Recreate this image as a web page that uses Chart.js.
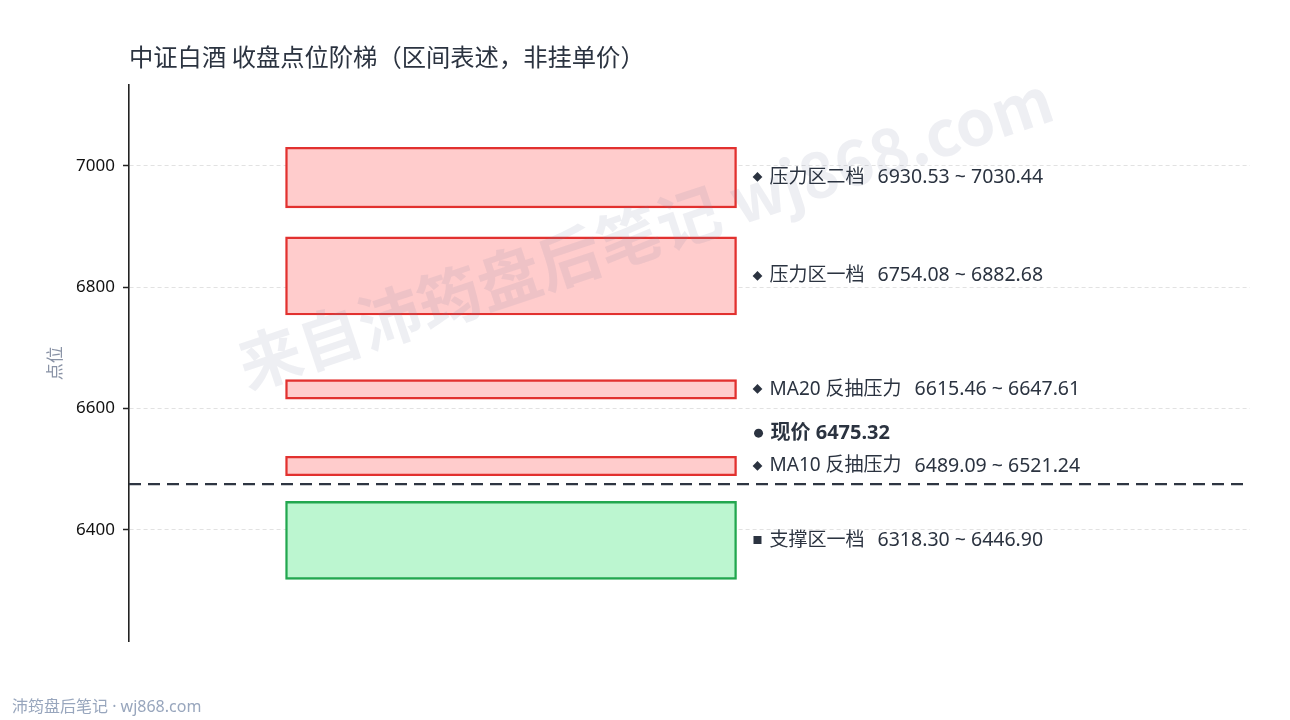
<!DOCTYPE html>
<html>
<head>
<meta charset="utf-8">
<script src="https://cdn.jsdelivr.net/npm/chart.js@4.4.1/dist/chart.umd.min.js"></script>
<style>
  html, body { margin: 0; padding: 0; background: #fff; }
  #wrap { width: 1290px; height: 720px; }
</style>
</head>
<body>
<div id="wrap"><canvas id="ladder" width="1290" height="720"></canvas></div>
<script>
// zones, top to bottom
const zoneNames = ["压力区二档", "压力区一档", "MA20 反抽压力", "MA10 反抽压力", "支撑区一档"];
const zoneLow = [6930.53, 6754.08, 6615.46, 6489.09, 6318.30];
const zoneHigh = [7030.44, 6882.68, 6647.61, 6521.24, 6446.90];
const zoneKind = ["resist", "resist", "resist", "resist", "support"];
const currentPrice = 6475.32;
const yTicks = [6400, 6600, 6800, 7000];

const FONT = "'Noto Sans', 'Noto Sans CJK SC', sans-serif";
const TEXT = "#2b3340";
const barX = 0.3408;

function fmt(v) {
  return v.toFixed(2);
}

const overlay = {
  id: "overlay",
  afterDatasetsDraw(chart) {
    const ctx = chart.ctx;
    const area = chart.chartArea;
    const y = chart.scales.y;

    // current price line
    const py = y.getPixelForValue(currentPrice);
    ctx.save();
    ctx.strokeStyle = "#2e3542";
    ctx.lineWidth = 2.2;
    ctx.setLineDash([12, 7]);
    ctx.beginPath();
    ctx.moveTo(area.left, py);
    ctx.lineTo(area.right, py);
    ctx.stroke();
    ctx.restore();

    // watermark
    ctx.save();
    ctx.translate(645, 232);
    ctx.rotate(-18.5 * Math.PI / 180);
    ctx.font = "bold 63px 'Noto Sans CJK SC', sans-serif";
    ctx.fillStyle = "rgba(120, 132, 165, 0.13)";
    ctx.textAlign = "center";
    ctx.textBaseline = "middle";
    ctx.fillText("来自沛筠盘后笔记 wj868.com", 0, 0);
    ctx.restore();
  },
  afterDraw(chart) {
    const ctx = chart.ctx;
    const y = chart.scales.y;
    const meta = chart.getDatasetMeta(0);

    ctx.save();
    ctx.textBaseline = "middle";

    // zone labels
    for (let i = 0; i < zoneNames.length; i++) {
      const bar = meta.data[i];
      const ly = (y.getPixelForValue(zoneLow[i]) + y.getPixelForValue(zoneHigh[i])) / 2;
      const lx = bar.x + bar.width / 2 + 20;
      ctx.fillStyle = TEXT;
      ctx.textAlign = "center";
      ctx.font = "10px 'Noto Sans CJK SC'";
      ctx.fillText(zoneKind[i] === "support" ? "■" : "◆", lx + 1, ly);
      ctx.textAlign = "left";
      ctx.font = "19px " + FONT;
      ctx.fillText(zoneNames[i], lx + 13, ly);
      const nameW = ctx.measureText(zoneNames[i]).width;
      ctx.font = "19.5px 'Noto Sans', sans-serif";
      ctx.fillText(fmt(zoneLow[i]) + " ~ " + fmt(zoneHigh[i]), lx + 13 + nameW + 13, ly);
    }

    // current price label
    const bar0 = meta.data[0];
    const cx = bar0.x + bar0.width / 2 + 20;
    const cy = y.getPixelForValue(currentPrice) - 51;
    ctx.fillStyle = TEXT;
    ctx.beginPath();
    ctx.arc(cx + 2, cy, 4.5, 0, Math.PI * 2);
    ctx.fill();
    ctx.textAlign = "left";
    ctx.font = "bold 20px " + FONT;
    ctx.fillText("现价 " + fmt(currentPrice), cx + 14, cy);

    // title
    ctx.fillStyle = TEXT;
    ctx.font = "24.3px 'Noto Sans CJK SC', sans-serif";
    ctx.fillText("中证白酒 收盘点位阶梯（区间表述，非挂单价）", 129, 57);

    // footer
    ctx.fillStyle = "#98a6bd";
    ctx.font = "16px " + FONT;
    ctx.fillText("沛筠盘后笔记 · wj868.com", 12, 707);
    ctx.restore();
  }
};

new Chart(document.getElementById("ladder"), {
  type: "bar",
  data: {
    datasets: [
      {
        data: zoneLow.map((lo, i) => ({ x: barX, y: [lo, zoneHigh[i]] })),
        backgroundColor: zoneKind.map((k) => (k === "support" ? "#bcf6d0" : "#ffcccc")),
        borderColor: zoneKind.map((k) => (k === "support" ? "#22a74f" : "#e2312f")),
        borderWidth: 2.4,
        borderSkipped: false,
        barThickness: 451,
      },
    ],
  },
  options: {
    responsive: false,
    animation: false,
    devicePixelRatio: 1,
    layout: { padding: { top: 85, bottom: 78.5, left: 0, right: 40 } },
    scales: {
      x: { type: "linear", min: 0, max: 1, offset: false, display: false },
      y: {
        min: 6216,
        max: 7133,
        afterBuildTicks: (scale) => {
          scale.ticks = yTicks.map((v) => ({ value: v }));
        },
        afterFit: (scale) => {
          scale.width = 129;
        },
        ticks: {
          color: "#111",
          padding: 8,
          font: { family: "'Noto Sans', sans-serif", size: 17 },
          callback: (v) => String(v),
        },
        grid: {
          color: "#e2e2e2",
          lineWidth: 1,
          tickLength: 6,
          tickColor: "#222",
          tickWidth: 1.5,
        },
        border: { color: "#222", width: 1.6, dash: [4, 3] },
        title: {
          display: true,
          text: "点位",
          color: "#8a93a6",
          font: { family: "'Noto Sans CJK SC', sans-serif", size: 17 },
          padding: { top: 44, bottom: 0 },
        },
      },
    },
    plugins: {
      legend: false,
      tooltip: { enabled: false },
    },
  },
  plugins: [overlay],
});
</script>
</body>
</html>
